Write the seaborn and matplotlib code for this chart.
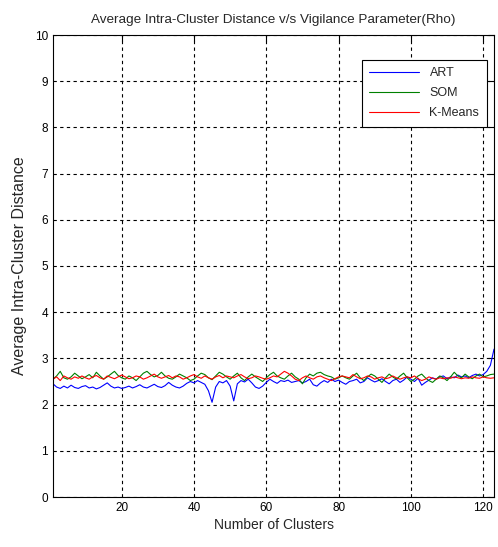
import matplotlib
matplotlib.use("Agg")
import matplotlib.pyplot as plt
import seaborn as sns
import pandas as pd
import numpy as np

clusters = list(range(1, 124))

art = [2.45, 2.38, 2.35, 2.40, 2.36, 2.42, 2.37, 2.35, 2.39, 2.41,
       2.36, 2.38, 2.34, 2.37, 2.42, 2.47, 2.40, 2.36, 2.38, 2.35,
       2.37, 2.40, 2.36, 2.39, 2.43, 2.38, 2.36, 2.40, 2.44, 2.39,
       2.37, 2.41, 2.48, 2.42, 2.38, 2.36, 2.40, 2.46, 2.50, 2.47,
       2.52, 2.48, 2.44, 2.30, 2.05, 2.38, 2.50, 2.47, 2.52, 2.40,
       2.08, 2.45, 2.52, 2.49, 2.55, 2.47, 2.38, 2.35, 2.40, 2.48,
       2.55, 2.50, 2.46, 2.52, 2.50, 2.53, 2.48, 2.50, 2.52, 2.47,
       2.50, 2.55, 2.43, 2.40, 2.47, 2.52, 2.48, 2.55, 2.50, 2.53,
       2.48, 2.44, 2.50, 2.52, 2.55, 2.47, 2.50, 2.58, 2.53, 2.49,
       2.52, 2.56, 2.50, 2.45, 2.52, 2.55, 2.48, 2.53, 2.60, 2.55,
       2.50, 2.57, 2.42, 2.48, 2.53, 2.58, 2.55, 2.60, 2.62, 2.56,
       2.60, 2.58, 2.64, 2.60, 2.62, 2.58, 2.63, 2.66, 2.62, 2.65,
       2.72, 2.85, 3.20]

som = [2.55, 2.62, 2.72, 2.58, 2.55, 2.60, 2.68, 2.62, 2.56, 2.60,
       2.65, 2.58, 2.70, 2.62, 2.55, 2.60, 2.66, 2.72, 2.63, 2.58,
       2.55, 2.62, 2.58, 2.52, 2.60, 2.68, 2.72, 2.65, 2.60, 2.63,
       2.70, 2.62, 2.57, 2.55, 2.60, 2.66, 2.62, 2.58, 2.52, 2.55,
       2.62, 2.68, 2.65, 2.58, 2.54, 2.62, 2.70, 2.66, 2.60, 2.55,
       2.62, 2.68, 2.58, 2.52, 2.60, 2.66, 2.60, 2.55, 2.50, 2.58,
       2.65, 2.70, 2.62, 2.58, 2.55, 2.62, 2.68, 2.60, 2.55, 2.45,
       2.58, 2.66, 2.62, 2.68, 2.70, 2.65, 2.62, 2.60, 2.55, 2.58,
       2.62, 2.58, 2.55, 2.62, 2.68, 2.58, 2.52, 2.60, 2.66, 2.62,
       2.55, 2.48, 2.58, 2.66, 2.60, 2.55, 2.62, 2.68, 2.58, 2.50,
       2.55, 2.62, 2.66, 2.58, 2.52, 2.48, 2.55, 2.62, 2.58, 2.52,
       2.60, 2.70, 2.62, 2.58, 2.66, 2.60, 2.56, 2.62, 2.66, 2.60,
       2.62, 2.65, 2.66]

kmeans = [2.55, 2.60, 2.52, 2.62, 2.58, 2.55, 2.60, 2.57, 2.62, 2.58,
          2.55, 2.60, 2.63, 2.58, 2.55, 2.62, 2.59, 2.56, 2.60, 2.64,
          2.60, 2.56, 2.58, 2.62, 2.60, 2.55, 2.58, 2.62, 2.66, 2.60,
          2.57, 2.60, 2.63, 2.58, 2.62, 2.60, 2.55, 2.58, 2.62, 2.65,
          2.60, 2.57, 2.62, 2.58, 2.55, 2.60, 2.63, 2.58, 2.62, 2.60,
          2.58, 2.62, 2.65, 2.60, 2.56, 2.58, 2.62, 2.60, 2.57, 2.55,
          2.58, 2.62, 2.60, 2.66, 2.72, 2.68, 2.62, 2.55, 2.52, 2.58,
          2.62, 2.58, 2.55, 2.60, 2.62, 2.58, 2.55, 2.52, 2.56, 2.60,
          2.62, 2.60, 2.58, 2.65, 2.60, 2.56, 2.58, 2.62, 2.60, 2.55,
          2.58, 2.60, 2.56, 2.58, 2.62, 2.58, 2.55, 2.58, 2.60, 2.58,
          2.62, 2.56, 2.52, 2.55, 2.60, 2.57, 2.55, 2.58, 2.56, 2.58,
          2.57, 2.60, 2.58, 2.56, 2.58, 2.57, 2.60, 2.58, 2.57, 2.60,
          2.58, 2.57, 2.58]

series_names = ["ART", "SOM", "K-Means"]
xticks = [20, 40, 60, 80, 100, 120]
yticks = list(range(0, 11))

df = pd.DataFrame({
    "Number of Clusters": clusters * 3,
    "value": art + som + kmeans,
    "method": ["ART"] * len(art) + ["SOM"] * len(som) + ["K-Means"] * len(kmeans),
})

sns.set_style("white")
plt.rcParams["font.family"] = ["Liberation Sans", "DejaVu Sans"]
plt.rcParams["font.size"] = 8

fig = plt.figure(figsize=(4.98, 5.47), dpi=100)
ax = fig.add_axes([53/498, 1 - 497/547, 441/498, 462/547])

palette = {"ART": (0, 0, 1), "SOM": (0, 0.5, 0), "K-Means": (1, 0, 0)}
sns.lineplot(data=df, x="Number of Clusters", y="value", hue="method",
             hue_order=series_names, palette=palette, linewidth=0.8, ax=ax)

ax.set_xlim(1, 123)
ax.set_ylim(0, 10)
ax.set_xticks(xticks)
ax.set_yticks(yticks)
ax.grid(True, color="black", linestyle=(0, (3, 3)), linewidth=0.8)
ax.tick_params(direction="in", top=True, right=True, length=4, width=0.8,
               labelsize=8.5, colors="black")
for s in ax.spines.values():
    s.set_color("black")
    s.set_linewidth(0.8)
    s.set_visible(True)

ax.set_title("Average Intra-Cluster Distance v/s Vigilance Parameter(Rho)",
             fontsize=9.7, pad=9)
ax.set_xlabel("Number of Clusters", fontsize=10, labelpad=3)
ax.set_ylabel("Average Intra-Cluster Distance", fontsize=11.5, labelpad=6)

leg = ax.legend(loc="upper right", bbox_to_anchor=(0.998, 0.96),
                fancybox=False, edgecolor="black", framealpha=1,
                fontsize=9, handlelength=4.0, borderpad=0.6,
                labelspacing=0.65)
leg.get_frame().set_linewidth(0.8)

fig.savefig("out.png", dpi=100)
